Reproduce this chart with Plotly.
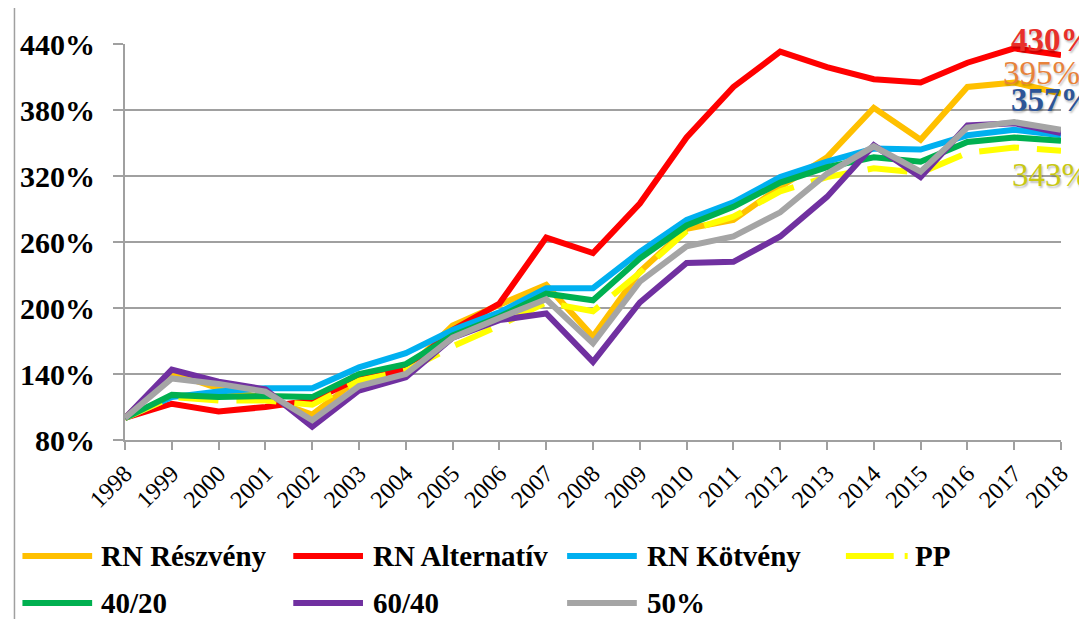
import plotly.graph_objects as go

years = list(range(1998, 2019))

rn_reszveny = [100, 141, 127, 118, 103, 136, 143, 184, 203, 221, 174, 233, 272, 280, 310, 337, 382, 353, 401, 405, 395]
rn_alternativ = [100, 113, 106, 110, 116, 136, 144, 180, 204, 264, 250, 295, 355, 401, 433, 419, 408, 405, 423, 436, 430]
rn_kotveny = [100, 119, 124, 127, 127, 146, 159, 180, 196, 218, 218, 251, 280, 296, 319, 333, 345, 344, 357, 362, 357]
pp = [100, 119, 116, 116, 112, 134, 143, 165, 184, 205, 197, 232, 270, 283, 306, 319, 327, 323, 341, 346, 343]
s40_20 = [100, 121, 119, 120, 119, 140, 149, 175, 192, 213, 207, 245, 275, 292, 314, 328, 337, 333, 351, 355, 352]
s60_40 = [100, 144, 133, 126, 92, 125, 137, 173, 189, 195, 151, 205, 241, 242, 265, 301, 348, 319, 366, 368, 359]
s50 = [100, 136, 131, 124, 98, 129, 140, 173, 191, 208, 168, 224, 256, 265, 287, 322, 347, 324, 364, 369, 362]

series_names = ["RN Részvény", "RN Alternatív", "RN Kötvény", "PP", "40/20", "60/40", "50%"]
series_values = [rn_reszveny, rn_alternativ, rn_kotveny, pp, s40_20, s60_40, s50]
series_colors = ["#FFC000", "#FF0000", "#00B0F0", "#FFFF00", "#00B050", "#7030A0", "#A5A5A5"]
series_dash = ["solid", "solid", "solid", "40px,18px", "solid", "solid", "solid"]

y_ticks = [80, 140, 200, 260, 320, 380, 440]
y_ticktext = [f"{v}%" for v in y_ticks]

end_labels = ["430%", "395%", "357%", "343%"]
end_label_colors = ["#E8302A", "#E8823A", "#2E5597", "#C8C814"]
end_label_bold = [True, False, True, False]

# page body has an 8px margin: figure is drawn at (8, 8) in the viewport
OFF = 8
W, H = 1087 - OFF, 619 - OFF
L, T = 121 - OFF, 44 - OFF
PW, PH = 940, 396
R = W - L - PW
B = H - T - PH


def px(x):
    # viewport pixel -> paper
    return (x - OFF - L) / PW


def py(y):
    return (T + PH - (y - OFF)) / PH


serif = "Liberation Serif, Times New Roman, serif"

fig = go.Figure()
for name, vals, col, dash in zip(series_names, series_values, series_colors, series_dash):
    fig.add_trace(go.Scatter(
        x=years, y=vals, name=name, mode="lines",
        line=dict(color=col, width=6, dash=dash),
        showlegend=False, cliponaxis=False,
    ))

shapes = []
annotations = []

# manual legend
leg_cols = [(18, 95), (290, 368), (565, 643), (845, 912)]
leg_rows = [556, 603]
for i, (name, col, dash) in enumerate(zip(series_names, series_colors, series_dash)):
    row, c = divmod(i, 4)
    x0, xt = leg_cols[c]
    yy = leg_rows[row]
    if dash == "solid":
        shapes.append(dict(type="line", xref="paper", yref="paper",
                           x0=px(x0), x1=px(x0 + 70), y0=py(yy), y1=py(yy),
                           line=dict(color=col, width=6)))
    else:
        shapes.append(dict(type="line", xref="paper", yref="paper",
                           x0=px(x0), x1=px(x0 + 48), y0=py(yy), y1=py(yy),
                           line=dict(color=col, width=6)))
        shapes.append(dict(type="line", xref="paper", yref="paper",
                           x0=px(x0 + 59), x1=px(x0 + 62), y0=py(yy), y1=py(yy),
                           line=dict(color=col, width=6)))
    annotations.append(dict(xref="paper", yref="paper", x=px(xt), y=py(yy),
                            xanchor="left", yanchor="middle", showarrow=False,
                            text=name,
                            font=dict(family=serif, size=29, color="black", weight="bold")))

# end value labels
end_pos = [(1052, 40), (1041, 73), (1052, 100), (1050, 175)]
for txt, col, bold, (ex, ey) in zip(end_labels, end_label_colors, end_label_bold, end_pos):
    annotations.append(dict(xref="paper", yref="paper", x=px(ex), y=py(ey),
                            xanchor="center", yanchor="middle", showarrow=False,
                            text=txt,
                            font=dict(family=serif, size=33, color=col,
                                      weight="bold" if bold else "normal",
                                      shadow="1px 2px 2px rgba(0,0,0,0.25)")))

# left chart-area border
shapes.append(dict(type="line", xref="paper", yref="paper",
                   x0=px(10), x1=px(10), y0=py(625), y1=py(0),
                   line=dict(color="#A0A0A0", width=1.5)))

fig.update_layout(
    width=W, height=H,
    margin=dict(l=L, r=R, t=T, b=B),
    paper_bgcolor="white", plot_bgcolor="white",
    shapes=shapes, annotations=annotations,
    xaxis=dict(
        range=[1998, 2018], tickmode="array", tickvals=years,
        ticktext=[str(y) for y in years], tickangle=-45,
        ticks="outside", ticklen=8, tickcolor="#A0A0A0", tickwidth=1.5,
        showline=True, linecolor="#A0A0A0", linewidth=2,
        showgrid=False, zeroline=False,
        tickfont=dict(family=serif, size=24, color="black"),
    ),
    yaxis=dict(
        range=[80, 440], tickmode="array", tickvals=y_ticks, ticktext=y_ticktext,
        ticks="outside", ticklen=10, tickcolor="#A0A0A0", tickwidth=1.5,
        showline=True, linecolor="#A0A0A0", linewidth=2,
        showgrid=True, gridcolor="#A0A0A0", gridwidth=2, zeroline=False,
        ticklabelstandoff=12,
        tickfont=dict(family=serif, size=30, color="black", weight="bold"),
    ),
)

fig.write_html("out.html")
